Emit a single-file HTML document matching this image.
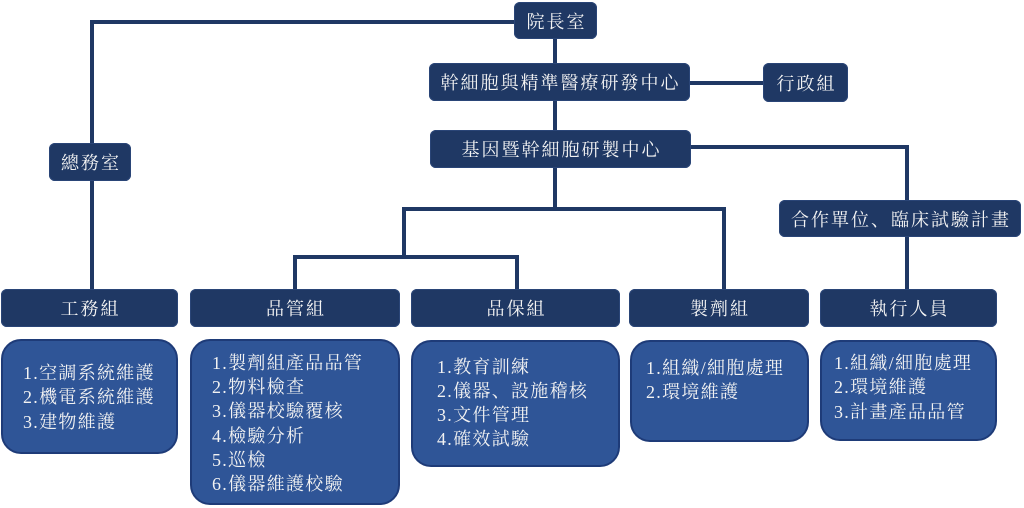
<!DOCTYPE html>
<html>
<head>
<meta charset="utf-8">
<style>
  html,body{margin:0;padding:0;background:#fff;}
  body{width:1024px;height:508px;position:relative;overflow:hidden;
    font-family:"Liberation Serif","Noto Serif CJK SC","Noto Serif CJK TC",serif;}
  .ln{position:absolute;background:#1f3864;}
  .hd{position:absolute;background:#1f3864;border-radius:6px;color:#f4f4f4;
    font-size:18px;letter-spacing:2px;text-align:center;box-sizing:border-box;
    padding-left:2px;display:flex;align-items:center;justify-content:center;
    box-shadow:inset 0 0 0 1px #2a4577;}
  .dt{position:absolute;background:#2f5597;border:2px solid #1e3b78;border-radius:20px;box-sizing:border-box;}
  .tx{position:absolute;color:#f2f2f2;font-size:18px;letter-spacing:1.3px;line-height:24.4px;white-space:nowrap;}
</style>
</head>
<body>
<!-- connector lines -->
<div class="ln" style="left:90px;top:20px;width:425px;height:4px;"></div>
<div class="ln" style="left:90px;top:20px;width:4px;height:270px;"></div>
<div class="ln" style="left:553px;top:38px;width:4px;height:26px;"></div>
<div class="ln" style="left:553px;top:100px;width:4px;height:31px;"></div>
<div class="ln" style="left:689px;top:81px;width:75px;height:4px;"></div>
<div class="ln" style="left:690px;top:145px;width:219px;height:4px;"></div>
<div class="ln" style="left:905px;top:145px;width:4px;height:56px;"></div>
<div class="ln" style="left:905px;top:236px;width:4px;height:54px;"></div>
<div class="ln" style="left:553px;top:167px;width:4px;height:43px;"></div>
<div class="ln" style="left:402px;top:207px;width:324px;height:4px;"></div>
<div class="ln" style="left:402px;top:207px;width:4px;height:52px;"></div>
<div class="ln" style="left:293px;top:255px;width:226px;height:4px;"></div>
<div class="ln" style="left:293px;top:255px;width:4px;height:35px;"></div>
<div class="ln" style="left:515px;top:255px;width:4px;height:35px;"></div>
<div class="ln" style="left:722px;top:207px;width:4px;height:83px;"></div>

<!-- top-level boxes -->
<div class="hd" style="left:514px;top:2px;width:83px;height:37px;">院長室</div>
<div class="hd" style="left:49px;top:143px;width:82px;height:38px;">總務室</div>
<div class="hd" style="left:429px;top:63px;width:261px;height:38px;">幹細胞與精準醫療研發中心</div>
<div class="hd" style="left:763px;top:63px;width:85px;height:39px;">行政組</div>
<div class="hd" style="left:430px;top:130px;width:261px;height:38px;">基因暨幹細胞研製中心</div>
<div class="hd" style="left:779px;top:200px;width:242px;height:37px;">合作單位、臨床試驗計畫</div>

<!-- group headers -->
<div class="hd" style="left:1px;top:289px;width:177px;height:38px;">工務組</div>
<div class="hd" style="left:190px;top:289px;width:210px;height:38px;">品管組</div>
<div class="hd" style="left:411px;top:289px;width:209px;height:38px;">品保組</div>
<div class="hd" style="left:629px;top:289px;width:180px;height:38px;">製劑組</div>
<div class="hd" style="left:820px;top:289px;width:177px;height:38px;">執行人員</div>

<!-- detail boxes -->
<div class="dt" style="left:1px;top:339px;width:177px;height:115px;"></div>
<div class="dt" style="left:190px;top:339px;width:210px;height:166px;"></div>
<div class="dt" style="left:411px;top:340px;width:209px;height:127px;"></div>
<div class="dt" style="left:630px;top:340px;width:179px;height:102px;"></div>
<div class="dt" style="left:820px;top:340px;width:177px;height:101px;"></div>

<div class="tx" style="left:23px;top:361px;">1.空調系統維護<br>2.機電系統維護<br>3.建物維護</div>
<div class="tx" style="left:212px;top:351px;line-height:24.2px;">1.製劑組產品品管<br>2.物料檢查<br>3.儀器校驗覆核<br>4.檢驗分析<br>5.巡檢<br>6.儀器維護校驗</div>
<div class="tx" style="left:437px;top:355px;line-height:24px;">1.教育訓練<br>2.儀器、設施稽核<br>3.文件管理<br>4.確效試驗</div>
<div class="tx" style="left:646px;top:356px;">1.組織/細胞處理<br>2.環境維護</div>
<div class="tx" style="left:834px;top:351px;">1.組織/細胞處理<br>2.環境維護<br>3.計畫產品品管</div>
</body>
</html>
